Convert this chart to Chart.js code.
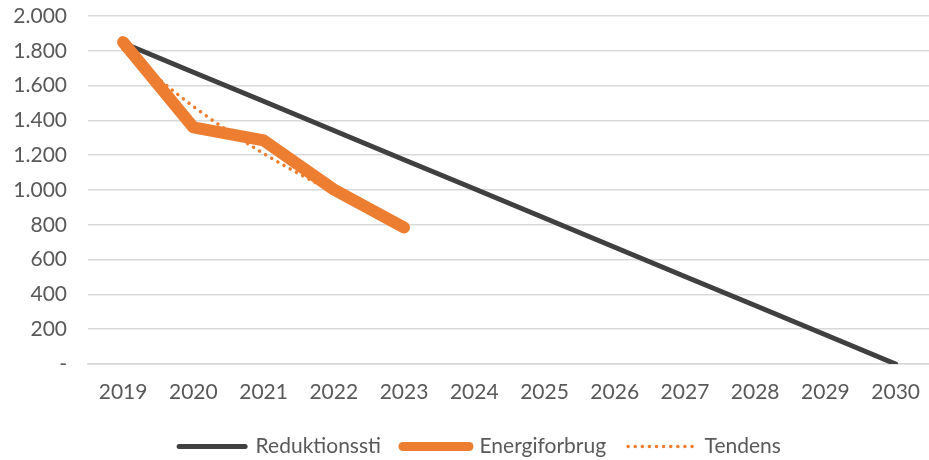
<!DOCTYPE html>
<html>
<head>
<meta charset="utf-8">
<script src="https://cdn.jsdelivr.net/npm/chart.js@4/dist/chart.umd.min.js"></script>
<style>
  html, body { margin: 0; padding: 0; background: #ffffff; overflow: hidden; }
  #wrap { width: 936px; height: 460px; position: relative; }
</style>
</head>
<body>
<div id="wrap"><canvas id="chart"></canvas></div>
<script>
// Energiforbrug mod reduktionssti, 2019-2030
const YEARS = ['2019', '2020', '2021', '2022', '2023', '2024', '2025', '2026', '2027', '2028', '2029', '2030'];
const REDUKTIONSSTI = [1845, 1677, 1510, 1342, 1174, 1007, 839, 671, 503, 336, 168, 0];
const ENERGIFORBRUG = [1850, 1360, 1285, 1003, 785, null, null, null, null, null, null, null];
const TENDENS       = [1810, 1480, 1210, 990, 810, null, null, null, null, null, null, null];

const COLOR_GREY   = '#404040';
const COLOR_ORANGE = '#ED7D31';
const COLOR_TEXT   = '#595959';
const COLOR_GRID   = '#D9D9D9';
const FONT = { family: "Lato, 'Open Sans', sans-serif", size: 21 };
const DOTS = [0.1, 7];

function formatTick(v) {
  if (v === 0) return '-';
  return String(v).replace(/\B(?=(\d{3})+(?!\d))/g, '.');
}

// legend in the reference sits a bit right of the canvas centre
const legendShift = {
  id: 'legendShift',
  afterLayout(chart) {
    chart.legend.left += 12;
    chart.legend.right += 12;
  },
};

new Chart(document.getElementById('chart'), {
  type: 'line',
  data: {
    labels: YEARS,
    datasets: [
      {
        label: 'Reduktionssti',
        data: REDUKTIONSSTI,
        borderColor: COLOR_GREY,
        backgroundColor: COLOR_GREY,
        borderWidth: 5,
        borderCapStyle: 'round',
        pointRadius: 0,
        order: 2,
      },
      {
        label: 'Energiforbrug',
        data: ENERGIFORBRUG,
        borderColor: COLOR_ORANGE,
        backgroundColor: COLOR_ORANGE,
        borderWidth: 12,
        borderCapStyle: 'round',
        borderJoinStyle: 'round',
        pointRadius: 0,
        order: 0,
      },
      {
        label: 'Tendens',
        data: TENDENS,
        borderColor: COLOR_ORANGE,
        backgroundColor: COLOR_ORANGE,
        borderWidth: 3.5,
        borderCapStyle: 'round',
        borderDash: DOTS,
        cubicInterpolationMode: 'monotone',
        pointRadius: 0,
        order: 1,
      },
    ],
  },
  plugins: [legendShift],
  options: {
    responsive: true,
    maintainAspectRatio: false,
    animation: false,
    layout: { padding: { left: 0, right: 0, top: 16, bottom: 0 } },
    plugins: {
      tooltip: { enabled: false },
      legend: {
        position: 'bottom',
        maxHeight: 46,
        labels: {
          color: COLOR_TEXT,
          font: FONT,
          usePointStyle: true,
          pointStyleWidth: 66,
          padding: 22,
          generateLabels(chart) {
            const widths = [5, 9, 3.5];
            const dashes = [[], [], DOTS];
            return chart.data.datasets.map((ds, i) => ({
              text: ds.label,
              fillStyle: ds.borderColor,
              strokeStyle: ds.borderColor,
              lineWidth: widths[i],
              lineCap: 'round',
              lineDash: dashes[i],
              pointStyle: 'line',
              fontColor: COLOR_TEXT,
              datasetIndex: i,
              hidden: false,
            }));
          },
        },
      },
    },
    scales: {
      x: {
        offset: true,
        afterFit(scale) { scale.height = 50; },
        grid: { display: false, drawTicks: false },
        border: { display: true, color: COLOR_GRID, width: 1.5 },
        ticks: { color: COLOR_TEXT, font: FONT, padding: 16, maxRotation: 0, autoSkip: false },
      },
      y: {
        min: 0,
        max: 2000,
        afterFit(scale) {
          scale.width = 88;
          scale.paddingTop = 0;
          scale.paddingBottom = 0;
        },
        grid: { color: COLOR_GRID, lineWidth: 1.5, drawTicks: false },
        border: { display: false },
        ticks: { stepSize: 200, color: COLOR_TEXT, font: FONT, padding: 21, callback: formatTick },
      },
    },
  },
});
</script>
</body>
</html>
